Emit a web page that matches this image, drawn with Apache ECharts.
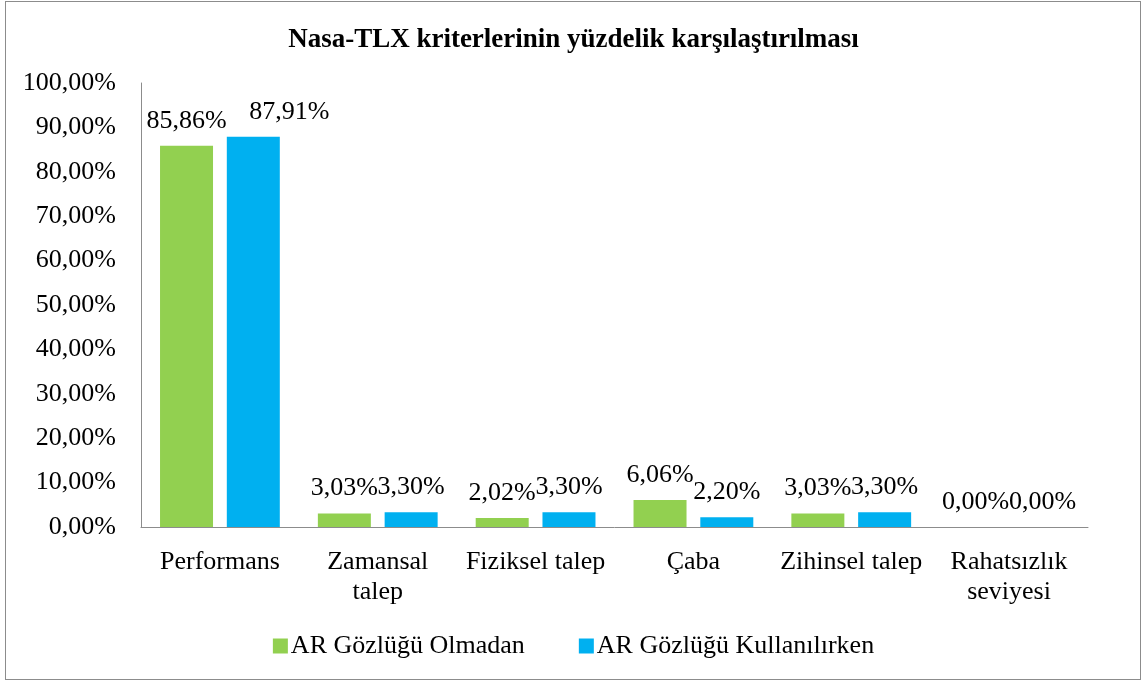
<!DOCTYPE html>
<html><head><meta charset="utf-8">
<script src="https://cdn.jsdelivr.net/npm/echarts@6/dist/echarts.min.js"></script>
<style>html,body{margin:0;padding:0;background:#fff;}#c{width:1147px;height:686px;}
#frame{position:absolute;left:5px;top:1px;width:1136px;height:679px;border:1px solid #8c8c8c;box-sizing:border-box;pointer-events:none;}</style>
</head><body><div id="c"></div><div id="frame"></div>
<script>
const categories = ['Performans', 'Zamansal\ntalep', 'Fiziksel talep', 'Çaba', 'Zihinsel talep', 'Rahatsızlık\nseviyesi'];
const seriesNames = ['AR Gözlüğü Olmadan', 'AR Gözlüğü Kullanılırken'];
const withoutAR = [85.86, 3.03, 2.02, 6.06, 3.03, 0.00];
const withAR = [87.91, 3.30, 3.30, 2.20, 3.30, 0.00];
const fmt = v => Number(v).toFixed(2).replace('.', ',') + '%';
const font = '"Liberation Serif", "Times New Roman", serif';
const FS = 26;
const chart = echarts.init(document.getElementById('c'));
const lbl = {show:true, position:'top', distance:12, color:'#000', fontFamily:font, fontSize:FS, formatter:p=>fmt(p.value)};
// the first blue label is moved right in the original, as Excel had it
const withARData = withAR.map((v, i) => i === 0 ? {value:v, label:{offset:[36, 0]}} : v);
chart.setOption({
  animation:false,
  textStyle:{fontFamily:font},
  title:{text:'Nasa-TLX kriterlerinin yüzdelik karşılaştırılması', left:'center', top:22,
    textStyle:{fontFamily:font, fontWeight:'bold', fontSize:27, color:'#000'}},
  grid:{left:141, right:59, top:83, bottom:159, containLabel:false},
  legend:{bottom:22, left:'center', itemWidth:15, itemHeight:15, itemGap:54, icon:'rect',
    textStyle:{fontFamily:font, fontSize:FS, color:'#000', padding:[0,0,0,-2]}, data:seriesNames},
  xAxis:{type:'category', data:categories,
    axisLine:{lineStyle:{color:'#8c8c8c', width:1}}, axisTick:{show:false},
    axisLabel:{color:'#000', fontFamily:font, fontSize:FS, margin:20, lineHeight:30, interval:0}},
  yAxis:{type:'value', min:0, max:100, interval:10,
    axisLine:{show:true, lineStyle:{color:'#8c8c8c', width:1}}, axisTick:{show:false},
    splitLine:{show:false},
    axisLabel:{color:'#000', fontFamily:font, fontSize:FS, margin:25, formatter:v=>fmt(v)}},
  series:[
    {name:seriesNames[0], type:'bar', data:withoutAR, barWidth:53, barGap:'26%', itemStyle:{color:'#92D050'}, label:lbl},
    {name:seriesNames[1], type:'bar', data:withARData, barWidth:53, itemStyle:{color:'#00B0F0'}, label:lbl}
  ]
});
</script></body></html>
